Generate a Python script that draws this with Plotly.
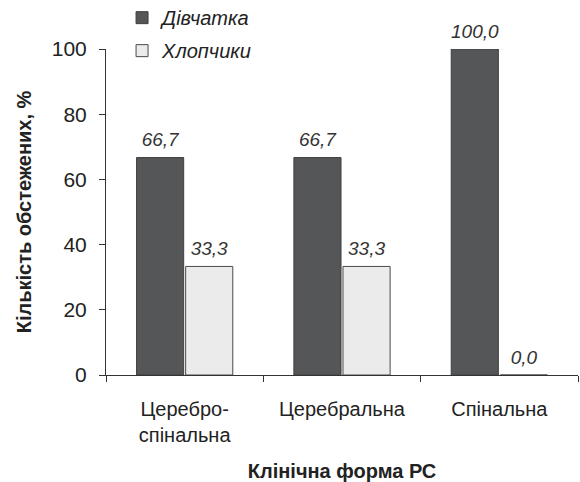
import plotly.graph_objects as go

categories = ["Церебро-<br>спінальна", "Церебральна", "Спінальна"]
girls = [66.7, 66.7, 100.0]
boys = [33.3, 33.3, 0.0]
series_names = ["Дівчатка", "Хлопчики"]
y_ticks = [0, 20, 40, 60, 80, 100]

FONT = "Liberation Sans"
AXIS = "#333333"
TXT = "#222222"
LABEL_FONT = dict(family=FONT, size=19, color="#333333", style="italic")

series = [
    (series_names[0], girls, "#555658", "#3f3f40", "g1"),
    (series_names[1], boys, "#ebebec", "#4a4a4a", "g2"),
]

fig = go.Figure()
for name, values, fill, edge, grp in series:
    fig.add_trace(go.Bar(
        x=categories, y=values, name=name, legendgroup=grp, offsetgroup=grp,
        marker=dict(color=fill, line=dict(color=edge, width=1)),
    ))
for name, values, fill, edge, grp in series:
    # value labels, aligned with their bars; the invisible marker sets the gap
    fig.add_trace(go.Scatter(
        x=categories, y=values, offsetgroup=grp, mode="markers+text",
        marker=dict(size=9, color="rgba(0,0,0,0)"),
        text=[f"{v:.1f}".replace(".", ",") for v in values],
        textposition="top center", textfont=LABEL_FONT,
        showlegend=False, hoverinfo="skip", cliponaxis=False,
    ))

fig.update_layout(
    width=580, height=482,
    margin=dict(l=106, r=2, t=49, b=107, autoexpand=False),
    paper_bgcolor="white", plot_bgcolor="white",
    barmode="group", bargap=0.376, bargroupgap=0.04,
    scattermode="group", scattergap=0.376,
    font=dict(family=FONT, size=20, color=TXT),
    showlegend=True,
    legend=dict(
        x=0.034, y=1.156, xanchor="left", yanchor="top",
        orientation="v", tracegroupgap=4,
        font=dict(family=FONT, size=20, color=TXT, style="italic"),
        bgcolor="rgba(0,0,0,0)",
    ),
    xaxis=dict(
        showline=True, linecolor=AXIS, linewidth=1,
        ticks="outside", tickson="boundaries", ticklen=6, tickcolor=AXIS,
        tickangle=0, ticklabelstandoff=16,
        tickfont=dict(family=FONT, size=20, color=TXT),
        title=dict(text="<b>Клінічна форма РС</b>", standoff=19,
                   font=dict(family=FONT, size=20, color=TXT)),
    ),
    yaxis=dict(
        range=[0, 100], tickvals=y_ticks,
        showline=True, linecolor=AXIS, linewidth=1, showgrid=False, zeroline=False,
        ticks="outside", ticklen=6, tickcolor=AXIS, ticklabelstandoff=8,
        tickfont=dict(family=FONT, size=21, color=TXT),
        title=dict(text="<b>Кількість обстежених, %</b>", standoff=14,
                   font=dict(family=FONT, size=20, color=TXT)),
    ),
)

fig.write_html("out.html")
